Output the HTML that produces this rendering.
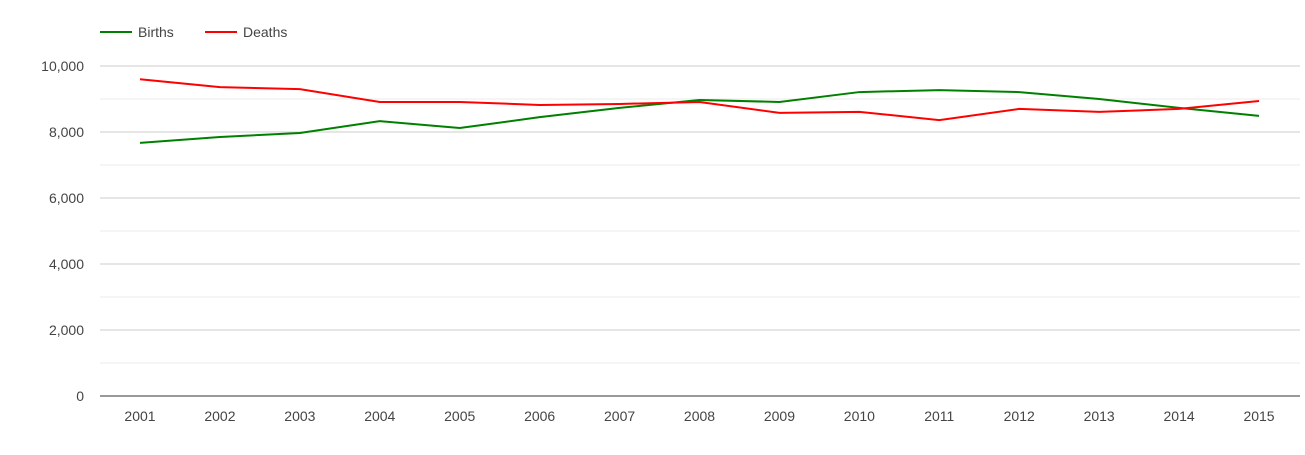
<!DOCTYPE html>
<html><head><meta charset="utf-8"><style>
body{margin:0;background:#fff;font-family:"Liberation Sans",Arial,sans-serif}
svg text{font-family:"Liberation Sans",Arial,sans-serif;font-size:14px;fill:#444}
</style></head><body>
<svg id="chart" width="1305" height="450">
<g id="grid"></g>
<g id="axes"></g>
<g id="series"></g>
<g>
<g><line x1="100" y1="32" x2="132" y2="32" stroke="#008000" stroke-width="2"/><text x="138" y="37">Births</text></g>
<g><line x1="205" y1="32" x2="237" y2="32" stroke="#ff0000" stroke-width="2"/><text x="243" y="37">Deaths</text></g>
</g>
</svg>
<script>
const years=["2001","2002","2003","2004","2005","2006","2007","2008","2009","2010","2011","2012","2013","2014","2015"];
const births=[7670,7850,7970,8330,8120,8450,8730,8970,8910,9210,9270,9210,9000,8730,8490];
const deaths=[9600,9360,9300,8910,8910,8820,8850,8910,8580,8610,8360,8700,8610,8700,8940];
const yTicks=[0,2000,4000,6000,8000,10000];
const yTickLabels=["0","2,000","4,000","6,000","8,000","10,000"];
const ns="http://www.w3.org/2000/svg";
const x0=140,dx=79.93,yBase=396,yTop=66,yMax=10000;
const X=i=>x0+i*dx, Y=v=>yBase-(v/yMax)*(yBase-yTop);
function mk(t,a,p){const e=document.createElementNS(ns,t);for(const k in a)e.setAttribute(k,a[k]);p.appendChild(e);return e;}
const grid=document.getElementById('grid'),axes=document.getElementById('axes'),ser=document.getElementById('series');
for(let v=1000;v<=9000;v+=2000){const l=mk('line',{x1:100,x2:1300,y1:Y(v),y2:Y(v),stroke:'#ebebeb'},grid);

}
yTicks.forEach((v,i)=>{if(v>0){const l=mk('line',{x1:100,x2:1300,y1:Y(v),y2:Y(v),stroke:'#ccc'},grid);

}
const t=mk('text',{x:84,y:Y(v)+5,'text-anchor':'end'},axes);t.textContent=yTickLabels[i];

});
const ax=mk('line',{x1:100,x2:1300,y1:yBase,y2:yBase,stroke:'#333'},axes);


years.forEach((y,i)=>{const t=mk('text',{x:X(i),y:421,'text-anchor':'middle'},axes);t.textContent=y;

});
function line(d,c,n){const p=mk('polyline',{points:d.map((v,i)=>X(i)+','+Y(v)).join(' '),fill:'none',stroke:c,'stroke-width':2},ser);

}
line(births,'#008000','births-line');
line(deaths,'#ff0000','deaths-line');
</script>
</body></html>
